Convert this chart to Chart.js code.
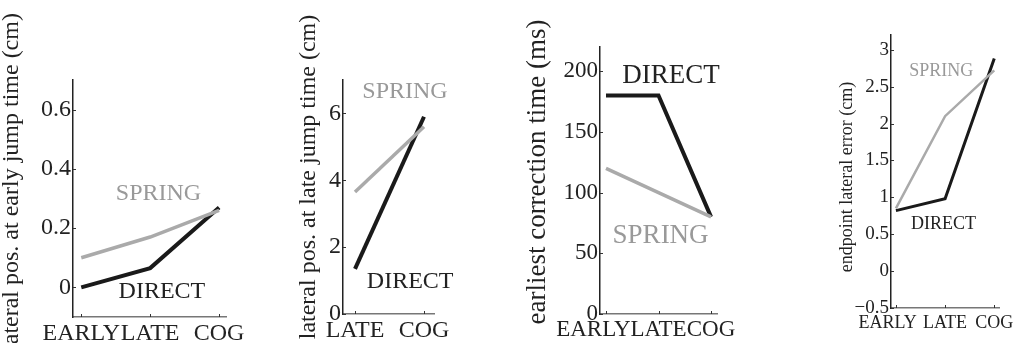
<!DOCTYPE html>
<html><head><meta charset="utf-8">
<script src="https://cdn.jsdelivr.net/npm/chart.js@4.4.1/dist/chart.umd.min.js"></script>
<style>
html,body{margin:0;padding:0;background:#fff;width:1018px;height:343px;overflow:hidden}
.p{position:absolute;top:0;height:343px}
canvas{display:block}
</style></head>
<body>
<div class="p" style="left:0px"><canvas id="c1" width="260" height="343"></canvas></div>
<div class="p" style="left:260px"><canvas id="c2" width="200" height="343"></canvas></div>
<div class="p" style="left:460px"><canvas id="c3" width="300" height="343"></canvas></div>
<div class="p" style="left:760px"><canvas id="c4" width="258" height="343"></canvas></div>
<script>
// ---- data ----
const cats1 = ['EARLY', 'LATE', 'COG'];
const spring1 = [0.10, 0.17, 0.26];
const direct1 = [0.00, 0.065, 0.27];
const yTicks1 = [0, 0.2, 0.4, 0.6];
const yTickLabels1 = ['0', '0.2', '0.4', '0.6'];

const cats2 = ['LATE', 'COG'];
const spring2 = [3.65, 5.6];
const direct2 = [1.35, 5.9];
const yTicks2 = [0, 2, 4, 6];
const yTickLabels2 = ['0', '2', '4', '6'];

const cats3 = ['EARLY', 'LATE', 'COG'];
const spring3 = [120, 100, 80];
const direct3 = [180, 180, 80];
const yTicks3 = [0, 50, 100, 150, 200];
const yTickLabels3 = ['0', '50', '100', '150', '200'];

const cats4 = ['EARLY', 'LATE', 'COG'];
const spring4 = [0.85, 2.1, 2.72];
const direct4 = [0.82, 0.98, 2.88];
const yTicks4 = [-0.5, 0, 0.5, 1, 1.5, 2, 2.5, 3];
const yTickLabels4 = ['\u22120.5', '0', '0.5', '1', '1.5', '2', '2.5', '3'];

const FONT = "'Liberation Serif', 'Times New Roman', serif";
const GRAY_LINE = '#aaaaaa', GRAY_TEXT = '#999999', BLACK_LINE = '#1a1a1a', BLACK_TEXT = '#222222';

const kern = {
  id: 'kern',
  beforeUpdate(chart) { chart.ctx.fontKerning = 'normal'; },
  beforeDraw(chart) { chart.ctx.fontKerning = 'normal'; }
};

const deco = {
  id: 'deco',
  afterDraw(chart, args, o) {
    const ctx = chart.ctx, xs = chart.scales.x, ys = chart.scales.y, a = chart.chartArea;
    ctx.save();
    ctx.fontKerning = 'normal';
    ctx.strokeStyle = '#333'; ctx.lineWidth = 1;
    o.cats.forEach((c, i) => { const px = Math.round(xs.getPixelForValue(i)) + 0.5;
      ctx.beginPath(); ctx.moveTo(px, a.bottom); ctx.lineTo(px, a.bottom - 3); ctx.stroke(); });
    ys.ticks.forEach(t => { const py = Math.round(ys.getPixelForValue(t.value)) + 0.5;
      ctx.beginPath(); ctx.moveTo(a.left, py); ctx.lineTo(a.left + 3, py); ctx.stroke(); });
    // axis title
    ctx.save();
    ctx.translate(o.title.x, o.title.y); ctx.rotate(-Math.PI / 2);
    ctx.font = o.title.size + 'px ' + FONT; ctx.fillStyle = BLACK_TEXT;
    ctx.textAlign = 'center'; ctx.textBaseline = 'middle';
    ctx.fillText(o.title.text, 0, 0);
    ctx.restore();
    // series labels
    o.labels.forEach(l => {
      ctx.font = l.size + 'px ' + FONT; ctx.fillStyle = l.color;
      ctx.textAlign = 'center'; ctx.textBaseline = 'alphabetic';
      ctx.fillText(l.text, xs.getPixelForValue(l.x), ys.getPixelForValue(l.y) + 0.33 * l.size);
    });
    ctx.restore();
  }
};

function makePanel(id, p) {
  const canvas = document.getElementById(id);
  const W = canvas.width, H = canvas.height;
  const L = p.left;
  new Chart(canvas, {
    type: 'line',
    data: {
      datasets: [
        { data: p.spring.map((v, i) => ({ x: i, y: v })), borderColor: GRAY_LINE, borderWidth: p.lw[0], pointRadius: 0, tension: 0, clip: false },
        { data: p.direct.map((v, i) => ({ x: i, y: v })), borderColor: BLACK_LINE, borderWidth: p.lw[1], pointRadius: 0, tension: 0, clip: false }
      ]
    },
    options: {
      responsive: false, animation: false, events: [],
      layout: { padding: { left: 0, top: p.area.t, right: (L + W) - p.area.r, bottom: 0 } },
      plugins: { legend: { display: false }, tooltip: { enabled: false },
        deco: { cats: p.cats, title: { text: p.title, x: p.titleX - L, y: p.titleY, size: p.titleSize }, labels: p.labels } },
      scales: {
        x: {
          type: 'linear', min: p.xmin, max: p.xmax,
          // label anchors: category positions, first label nudged left as in the original figure
          afterBuildTicks: s => { s.ticks = p.cats.map((c, i) => ({ value: i === 0 ? -p.firstShift : i })); },
          afterFit: s => { s.height = H - p.area.b; },
          ticks: { callback: (v, i) => p.cats[i], font: { family: FONT, size: p.xTickSize }, color: BLACK_TEXT, padding: p.xPad, maxRotation: 0, autoSkip: false },
          grid: { display: false, drawTicks: false },
          border: { display: true, color: '#777', width: 1.5 }
        },
        y: {
          type: 'linear', min: p.ymin, max: p.ymax,
          afterBuildTicks: s => { s.ticks = p.yTicks.map(v => ({ value: v })); },
          afterFit: s => { s.width = p.area.l - L; },
          ticks: { callback: (v, i) => p.yTickLabels[i], font: { family: FONT, size: p.yTickSize }, color: BLACK_TEXT, padding: 2, autoSkip: false },
          grid: { display: false, drawTicks: false },
          border: { display: true, color: '#222', width: 1.5 }
        }
      }
    },
    plugins: [kern, deco]
  });
}

makePanel('c1', {
  left: 0, area: { l: 73, r: 226, t: 80, b: 317 },
  cats: cats1, spring: spring1, direct: direct1, yTicks: yTicks1, yTickLabels: yTickLabels1,
  xmin: -0.12, xmax: 2.1, ymin: -0.1, ymax: 0.7, lw: [3.5, 4], firstShift: 0,
  xTickSize: 24, yTickSize: 24, xPad: 2,
  title: 'lateral pos. at early jump time (cm)', titleX: 12, titleY: 182, titleSize: 24,
  labels: [ { text: 'SPRING', x: 1.12, y: 0.32, size: 24, color: GRAY_TEXT },
            { text: 'DIRECT', x: 1.17, y: -0.01, size: 24, color: BLACK_TEXT } ]
});
makePanel('c2', {
  left: 260, area: { l: 343, r: 434, t: 80, b: 314 },
  cats: cats2, spring: spring2, direct: direct2, yTicks: yTicks2, yTickLabels: yTickLabels2,
  xmin: -0.174, xmax: 1.145, ymin: 0, ymax: 7, lw: [3.5, 4], firstShift: 0,
  xTickSize: 24, yTickSize: 24, xPad: 2,
  title: 'lateral pos. at late jump time (cm)', titleX: 309, titleY: 177, titleSize: 24,
  labels: [ { text: 'SPRING', x: 0.725, y: 6.7, size: 24, color: GRAY_TEXT },
            { text: 'DIRECT', x: 0.80, y: 1.0, size: 24, color: BLACK_TEXT } ]
});
makePanel('c3', {
  left: 460, area: { l: 600, r: 717, t: 47, b: 314 },
  cats: cats3, spring: spring3, direct: direct3, yTicks: yTicks3, yTickLabels: yTickLabels3,
  xmin: -0.114, xmax: 2.114, ymin: 0, ymax: 220, lw: [3.5, 4], firstShift: 0.24,
  xTickSize: 23, yTickSize: 23, xPad: 2,
  title: 'earliest correction time (ms)', titleX: 538, titleY: 172, titleSize: 27,
  labels: [ { text: 'DIRECT', x: 1.24, y: 197.5, size: 27, color: BLACK_TEXT },
            { text: 'SPRING', x: 1.04, y: 66, size: 27, color: GRAY_TEXT } ]
});
makePanel('c4', {
  left: 760, area: { l: 891, r: 1002, t: 35, b: 308 },
  cats: cats4, spring: spring4, direct: direct4, yTicks: yTicks4, yTickLabels: yTickLabels4,
  xmin: -0.1, xmax: 2.1, ymin: -0.5, ymax: 3.2, lw: [2.5, 3], firstShift: 0.17,
  xTickSize: 18, yTickSize: 19, xPad: 4,
  title: 'endpoint lateral error (cm)', titleX: 847, titleY: 177, titleSize: 18,
  labels: [ { text: 'SPRING', x: 0.92, y: 2.72, size: 18, color: GRAY_TEXT },
            { text: 'DIRECT', x: 0.97, y: 0.65, size: 18, color: BLACK_TEXT } ]
});
</script>
</body></html>
